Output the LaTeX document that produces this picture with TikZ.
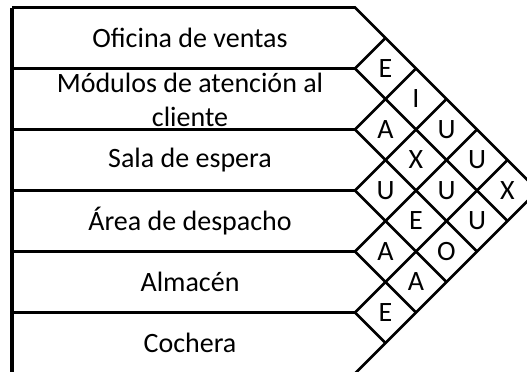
\documentclass[tikz,border=0pt]{standalone}
\usepackage{fontspec}
\setmainfont{Carlito}

\begin{document}
\begin{tikzpicture}[x=0.75pt,y=-0.75pt,line width=2pt,
  zona/.style={align=center,font=\fontsize{21}{25.5}\selectfont},
  rel/.style={inner sep=0pt,font=\fontsize{21}{25.5}\selectfont}]
\useasboundingbox (0,0) rectangle (527,371);
\clip (0,0) rectangle (527,371);

% areas
\draw[line width=2.6pt] (12,7.5) -- (12,373.5);
\draw (12,7.5) -- (355,7.5) -- (538,190.5);
\draw (12,68.5) -- (355,68.5) -- (507.5,221);
\draw (12,129.5) -- (355,129.5) -- (477,251.5);
\draw (12,190.5) -- (355,190.5) -- (446.5,282);
\draw (12,251.5) -- (355,251.5) -- (416,312.5);
\draw (12,312.5) -- (355,312.5) -- (385.5,343);
\draw (12,373.5) -- (355,373.5) -- (538,190.5);

\draw (355,68.5) -- (385.5,38);
\draw (355,129.5) -- (416,68.5);
\draw (355,190.5) -- (446.5,99);
\draw (355,251.5) -- (477,129.5);
\draw (355,312.5) -- (507.5,160);

\node[zona] (ofi) at (190,38) {Oficina de ventas};
\node[zona] (mod) at (190,100) {Módulos de atención al\\cliente};
\node[zona] (sal) at (190,160) {Sala de espera};
\node[zona] (are) at (190,221) {Área de despacho};
\node[zona] (alm) at (190,282) {Almacén};
\node[zona] (coc) at (190,343) {Cochera};

% relaciones
\node[rel] (r12) at (385.5,68.5) {E};
\node[rel] (r23) at (385.5,129.5) {A};
\node[rel] (r34) at (385.5,190.5) {U};
\node[rel] (r45) at (385.5,251.5) {A};
\node[rel] (r56) at (385.5,312.5) {E};
\node[rel] (r13) at (416,99) {I};
\node[rel] (r24) at (416,160) {X};
\node[rel] (r35) at (416,221) {E};
\node[rel] (r46) at (416,282) {A};
\node[rel] (r14) at (446.5,129.5) {U};
\node[rel] (r25) at (446.5,190.5) {U};
\node[rel] (r36) at (446.5,251.5) {O};
\node[rel] (r15) at (477,160) {U};
\node[rel] (r26) at (477,221) {U};
\node[rel] (r16) at (507.5,190.5) {X};

\end{tikzpicture}
\end{document}
